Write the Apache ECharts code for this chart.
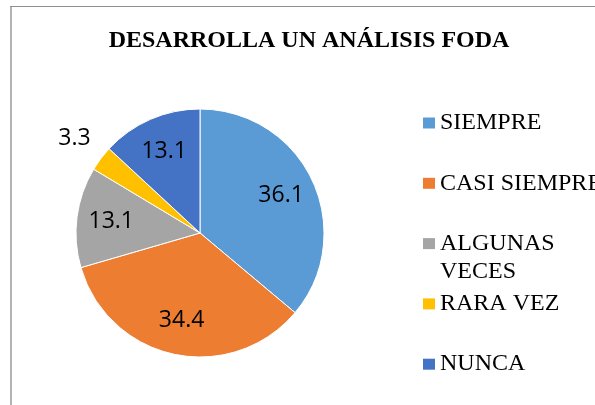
<!DOCTYPE html>
<html>
<head>
<meta charset="utf-8">
<title>DESARROLLA UN ANÁLISIS FODA</title>
<script src="https://cdn.jsdelivr.net/npm/echarts@6/dist/echarts.min.js"></script>
<style>
  html, body { margin: 0; padding: 0; background: #fff; }
  #chart { width: 595px; height: 405px; }
</style>
</head>
<body>
<div id="chart"></div>
<script>
// Survey answers and their share (%)
const categories = ['SIEMPRE', 'CASI SIEMPRE', 'ALGUNAS VECES', 'RARA VEZ', 'NUNCA'];
const percentages = [36.1, 34.4, 13.1, 3.3, 13.1];
// Legend text, with the manual line break for the long answer
const legendLabels = ['SIEMPRE', 'CASI SIEMPRE', 'ALGUNAS\nVECES', 'RARA VEZ', 'NUNCA'];
// Answers whose value label sits outside the pie
const outsideLabels = ['RARA VEZ'];

const palette = ['#5B9BD5', '#ED7D31', '#A5A5A5', '#FFC000', '#4472C4'];

const pieData = categories.map((name, i) => ({ name, value: percentages[i] }));

const center = [200, 233];
const R = 124;
const labelFont = { fontFamily: 'Open Sans', fontSize: 23, color: '#000' };

// one legend block per answer, stacked down the right side;
// multi-line entries get blank lines on top so the swatch lines up with the first line
const legendLineHeight = 28;
const legendFirstCenter = 123;
const legendStep = 60.3;
const legends = categories.map((name, i) => {
  const lines = legendLabels[i].split('\n');
  const padded = new Array(lines.length - 1).fill('').concat(lines).join('\n');
  const boxH = legendLineHeight * (2 * lines.length - 1);
  return {
    data: [name],
    left: 423,
    top: legendFirstCenter + i * legendStep - boxH / 2,
    padding: 0,
    icon: 'rect',
    itemWidth: 12,
    itemHeight: 11,
    selectedMode: false,
    itemStyle: { borderWidth: 0 },
    formatter: () => padded,
    textStyle: {
      fontFamily: 'Liberation Serif',
      fontSize: 24,
      color: '#000',
      lineHeight: legendLineHeight
    }
  };
});

const chart = echarts.init(document.getElementById('chart'), null, { renderer: 'canvas' });

chart.setOption({
  animation: false,
  color: palette,
  title: {
    text: 'DESARROLLA UN ANÁLISIS FODA',
    left: 309,
    top: 29,
    padding: 0,
    textAlign: 'center',
    textStyle: {
      fontFamily: 'Liberation Serif',
      fontWeight: 'bold',
      fontSize: 24,
      color: '#000'
    }
  },
  legend: legends,
  graphic: [
    // chart area frame
    { type: 'line', shape: { x1: 11, y1: 6, x2: 11, y2: 420 }, style: { stroke: '#b2b2b2', lineWidth: 2 }, silent: true },
    { type: 'line', shape: { x1: 10, y1: 6.5, x2: 620, y2: 6.5 }, style: { stroke: '#8f8f8f', lineWidth: 1 }, silent: true }
  ],
  series: [
    {
      // the coloured pie itself
      type: 'pie',
      center: center,
      radius: [0, R],
      startAngle: 90,
      clockwise: true,
      data: pieData,
      label: { show: false },
      labelLine: { show: false },
      itemStyle: { borderColor: '#fff', borderWidth: 1 },
      emphasis: { disabled: true }
    },
    {
      // value labels placed inside the slices
      type: 'pie',
      center: center,
      radius: [49, R],
      startAngle: 90,
      clockwise: true,
      silent: true,
      data: pieData.map(d => ({
        ...d,
        label: { show: outsideLabels.indexOf(d.name) < 0 }
      })),
      itemStyle: { color: 'transparent', borderWidth: 0 },
      label: Object.assign({ position: 'inside', formatter: p => p.value.toFixed(1) }, labelFont),
      labelLine: { show: false },
      emphasis: { disabled: true }
    },
    {
      // value labels for the thin slices, just outside the rim
      type: 'pie',
      center: center,
      radius: [R, R + 60],
      startAngle: 90,
      clockwise: true,
      silent: true,
      data: pieData.map(d => ({
        ...d,
        label: { show: outsideLabels.indexOf(d.name) >= 0 }
      })),
      itemStyle: { color: 'transparent', borderWidth: 0 },
      label: Object.assign({ position: 'inside', formatter: p => p.value.toFixed(1) }, labelFont),
      labelLine: { show: false },
      emphasis: { disabled: true }
    }
  ]
});
</script>
</body>
</html>
